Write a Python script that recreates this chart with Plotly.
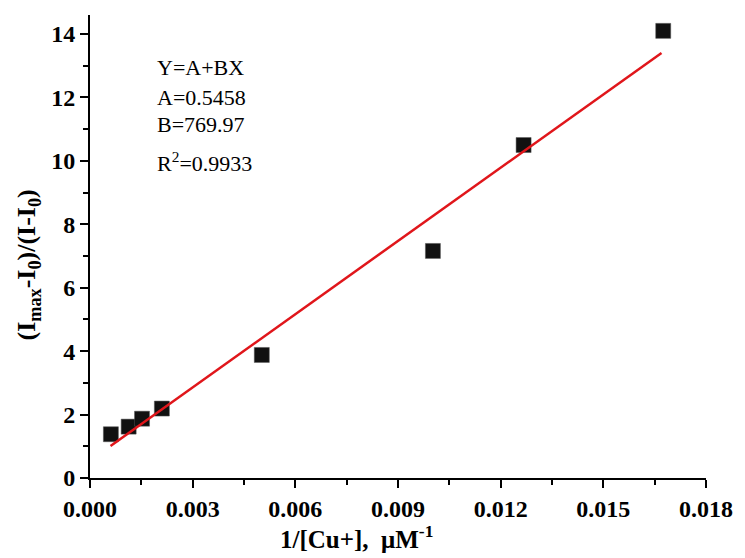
import plotly.graph_objects as go

# Data
x_vals = [0.00061, 0.00113, 0.00152, 0.00210, 0.00502, 0.01002, 0.01267, 0.01675]
y_vals = [1.38, 1.62, 1.87, 2.19, 3.88, 7.16, 10.5, 14.1]
fit_A = 0.5458
fit_B = 769.97
fit_x = [0.0006, 0.0167]
fit_y = [fit_A + fit_B * v for v in fit_x]
x_ticks = [0, 0.003, 0.006, 0.009, 0.012, 0.015, 0.018]
x_ticklabels = ["0.000", "0.003", "0.006", "0.009", "0.012", "0.015", "0.018"]
y_ticks = [0, 2, 4, 6, 8, 10, 12, 14]
y_ticklabels = ["0", "2", "4", "6", "8", "10", "12", "14"]
eq_lines = ["Y=A+BX", "A=0.5458", "B=769.97", "R<sup>2</sup>=0.9933"]
x_title = "1/[Cu+],  \u03bcM<sup>-1</sup>"
y_title = "(I<sub>max</sub>-I<sub>0</sub>)/(I-I<sub>0</sub>)"

W, H = 745, 558
L, R, T, B = 90, 34, 15, 80
pw, ph = W - L - R, H - T - B

def px(xp):
    return (xp - L) / pw

def py(yp):
    return (H - B - yp) / ph

fig = go.Figure()
fig.add_trace(go.Scatter(x=x_vals, y=y_vals, mode="markers",
                         marker=dict(symbol="square", size=15, color="#111111",
                                     line=dict(width=0.5, color="#555555")),
                         showlegend=False))
fig.add_trace(go.Scatter(x=fit_x, y=fit_y, mode="lines",
                         line=dict(color="#e0161b", width=2.5), showlegend=False))

font_tick = dict(family="Liberation Serif", size=24, color="black")
axis_common = dict(showline=True, linecolor="black", linewidth=2, ticks="outside",
                   ticklen=8, tickwidth=2, tickcolor="black", showgrid=False,
                   zeroline=False, tickfont=font_tick, mirror=False)

fig.update_xaxes(range=[0, 0.018], tickvals=x_ticks,
                 ticktext=["<b>%s</b>" % t for t in x_ticklabels],
                 minor=dict(tickvals=[0.0015, 0.0045, 0.0075, 0.0105, 0.0135, 0.0165],
                            ticklen=5, tickwidth=2, tickcolor="black", ticks="outside"),
                 **axis_common)
fig.update_yaxes(range=[0, 14.6], tickvals=y_ticks,
                 ticktext=["<b>%s</b>" % t for t in y_ticklabels],
                 minor=dict(tickvals=[1, 3, 5, 7, 9, 11, 13],
                            ticklen=5, tickwidth=2, tickcolor="black", ticks="outside"),
                 **axis_common)

annots = []
eq_y = [67, 97, 125, 162]
for txt, yy in zip(eq_lines, eq_y):
    annots.append(dict(text=txt, xref="paper", yref="paper", x=px(156), y=py(yy),
                       xanchor="left", yanchor="middle", showarrow=False,
                       font=dict(family="Liberation Serif", size=22, color="black")))
annots.append(dict(text="<b>" + x_title + "</b>", xref="paper", yref="paper",
                   x=px(359), y=py(537), xanchor="center", yanchor="middle",
                   showarrow=False, font=dict(family="Liberation Serif", size=25, color="black")))
annots.append(dict(text="<b>" + y_title + "</b>", xref="paper", yref="paper",
                   x=px(28), y=py(265), xanchor="center", yanchor="middle", textangle=-90,
                   showarrow=False, font=dict(family="Liberation Serif", size=26, color="black")))

fig.update_layout(width=W, height=H, margin=dict(l=L, r=R, t=T, b=B),
                  plot_bgcolor="white", paper_bgcolor="white", annotations=annots)
fig.write_html("out.html")
